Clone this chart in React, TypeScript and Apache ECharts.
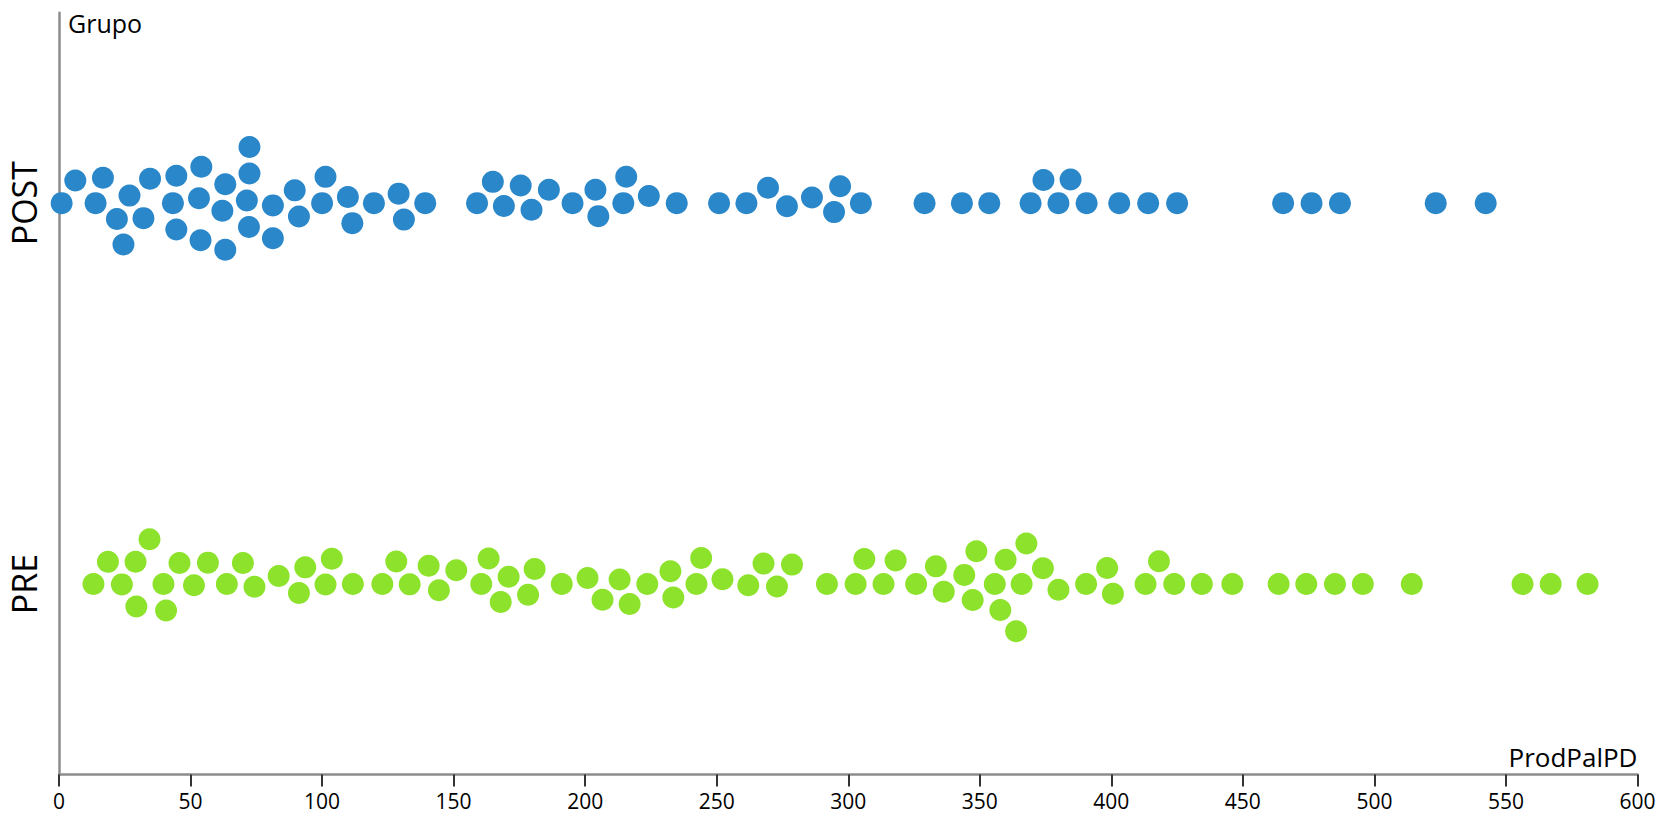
import React, { useEffect, useRef } from "react";
import * as echarts from "echarts";

// Groups (category axis, bottom to top)
const groups = ["PRE", "POST"];

// ProdPalPD values
const postValues = [
  1.0, 6.2, 13.9, 16.7, 22.0, 24.5, 26.8, 32.1, 34.6, 43.3,
  44.6, 44.6, 53.2, 53.8, 54.1, 62.1, 63.2, 63.2, 71.4, 72.2,
  72.4, 72.4, 81.3, 81.3, 89.6, 91.2, 100.0, 101.3, 109.8, 111.5,
  119.7, 129.1, 131.1, 139.2, 158.9, 164.9, 169.1, 175.5, 179.6, 186.2,
  195.2, 203.9, 205.0, 214.5, 215.6, 224.2, 234.8, 250.9, 261.3, 269.5,
  276.7, 286.2, 294.6, 296.9, 304.8, 329.0, 343.2, 353.6, 369.3, 374.2,
  379.9, 384.5, 390.6, 403.0, 414.0, 425.0, 465.3, 476.1, 486.9, 523.3,
  542.3,
];

const preValues = [
  13.1, 18.6, 23.9, 29.1, 29.4, 34.4, 39.7, 40.7, 45.8, 51.3,
  56.6, 63.8, 69.9, 74.3, 83.5, 91.2, 93.6, 101.3, 103.7, 111.7,
  122.9, 128.2, 133.3, 140.5, 144.4, 151.0, 160.5, 163.3, 167.9, 170.9,
  178.3, 180.8, 191.1, 200.9, 206.6, 213.1, 216.9, 223.6, 232.4, 233.5,
  242.3, 244.1, 252.2, 262.0, 267.8, 272.9, 278.6, 291.9, 302.8, 306.1,
  313.4, 318.0, 325.8, 333.3, 336.3, 344.1, 347.3, 348.7, 355.7, 357.8,
  359.8, 363.8, 365.9, 367.7, 374.0, 379.9, 390.4, 398.4, 400.6, 413.0,
  418.1, 423.9, 434.4, 446.0, 463.6, 474.1, 485.0, 495.6, 514.2, 556.3,
  567.0, 581.0,
];

const xMin = 0;
const xMax = 600;
const xStep = 50;

const FONT = "'Open Sans', sans-serif";
const POST_COLOR = "#2a87c9";
const PRE_COLOR = "#8de32b";

export default function App() {
  const ref = useRef<HTMLDivElement>(null);

  useEffect(() => {
    if (!ref.current) return;
    const chart = echarts.init(ref.current, null, { renderer: "svg" });

    const base: any = {
      animation: false,
      backgroundColor: "#ffffff",
      grid: { left: 59, right: 37.5, top: 12.7, bottom: 45.5, containLabel: false },
      xAxis: {
        type: "value",
        min: xMin,
        max: xMax,
        interval: xStep,
        name: "ProdPalPD",
        nameLocation: "end",
        nameGap: 0,
        nameTextStyle: {
          fontFamily: FONT,
          fontSize: 26,
          color: "#000",
          align: "right",
          verticalAlign: "bottom",
          padding: [0, 0, 5, 0],
        },
        axisLine: { show: true, lineStyle: { color: "#8c8c8c", width: 2.5 } },
        axisTick: { show: true, length: 12, lineStyle: { color: "#333", width: 2 } },
        axisLabel: { fontFamily: FONT, fontSize: 21, color: "#000", margin: 16 },
        splitLine: { show: false },
      },
      yAxis: {
        type: "category",
        data: groups,
        name: "Grupo",
        nameLocation: "end",
        nameGap: 2,
        nameTextStyle: {
          fontFamily: FONT,
          fontSize: 25,
          color: "#000",
          align: "left",
          verticalAlign: "top",
          padding: [0, 0, 0, 9],
        },
        axisLine: { show: true, lineStyle: { color: "#8c8c8c", width: 2.5 } },
        axisTick: { show: false },
        axisLabel: { fontFamily: FONT, fontSize: 34, color: "#000", rotate: 90, margin: 18 },
        splitLine: { show: false },
      },
      series: [],
    };
    chart.setOption(base);

    const D = 26.5; // collision distance in px
    const swarm = (vals: number[]) => {
      const xs = vals.map((v) => chart.convertToPixel({ xAxisIndex: 0 }, v) as number);
      const order = xs.map((_, i) => i).sort((a, b) => xs[a] - xs[b]);
      const placed: { x: number; y: number }[] = [];
      const dys: number[] = new Array(vals.length).fill(0);
      for (const i of order) {
        const x = xs[i];
        const near = placed.filter((p) => Math.abs(p.x - x) < D);
        const cands = [0];
        for (const p of near) {
          const h = Math.sqrt(D * D - (p.x - x) * (p.x - x));
          cands.push(p.y + h, p.y - h);
        }
        cands.sort((a, b) => Math.abs(a) - Math.abs(b) || a - b);
        let best = 0;
        for (const c of cands) {
          if (near.every((p) => (p.x - x) ** 2 + (p.y - c) ** 2 >= D * D - 0.01)) {
            best = c;
            break;
          }
        }
        placed.push({ x, y: best });
        dys[i] = best;
      }
      return dys;
    };

    const postDy = swarm(postValues);
    const preDy = swarm(preValues);

    chart.setOption({
      series: [
        {
          name: "POST",
          type: "scatter",
          symbol: "circle",
          symbolSize: 22,
          itemStyle: { color: POST_COLOR, opacity: 1 },
          data: postValues.map((v, i) => ({ value: [v, "POST"], symbolOffset: [0, postDy[i]] })),
        },
        {
          name: "PRE",
          type: "scatter",
          symbol: "circle",
          symbolSize: 22,
          itemStyle: { color: PRE_COLOR, opacity: 1 },
          data: preValues.map((v, i) => ({ value: [v, "PRE"], symbolOffset: [0, preDy[i]] })),
        },
      ],
    });

    return () => chart.dispose();
  }, []);

  return (
    <div
      ref={ref}
      style={{ position: "fixed", left: 0, top: 0, width: "1675px", height: "820px" }}
    />
  );
}
